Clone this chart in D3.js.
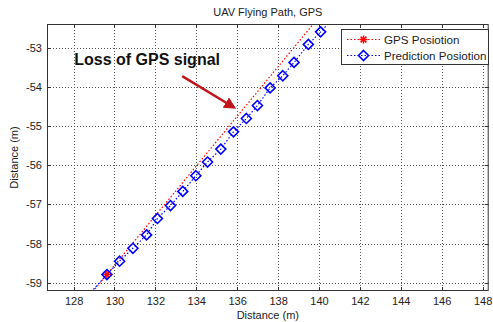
<!DOCTYPE html>
<html>
<head>
<meta charset="utf-8">
<script src="https://cdn.jsdelivr.net/npm/d3@7"></script>
<style>
  html, body { margin: 0; padding: 0; background: #fff; }
  svg { display: block; }
  text { font-family: "Liberation Sans", Arial, sans-serif; }
</style>
</head>
<body>
<svg id="chart" width="493" height="322"></svg>
<script>
// ---- data ----
const gpsX = [128.5, 129.63, 141.0];
const gpsY = [-59.50, -58.79, -51.59];
const predX = [128.4, 129.63, 130.25, 130.90, 131.57, 132.10, 132.74, 133.34, 133.98, 134.55, 135.20, 135.82, 136.45, 136.99, 137.61, 138.23, 138.78, 139.48, 140.08, 140.70];
const predY = [-59.50, -58.79, -58.45, -58.12, -57.78, -57.36, -57.03, -56.67, -56.27, -55.92, -55.59, -55.15, -54.81, -54.48, -54.03, -53.72, -53.38, -52.92, -52.60, -52.25];
const xTicks = [128, 130, 132, 134, 136, 138, 140, 142, 144, 146, 148];
const yTicks = [-59, -58, -57, -56, -55, -54, -53];
const seriesNames = ["GPS Posiotion", "Prediction Posiotion"];
const titleText = "UAV Flying Path, GPS";
const xLabel = "Distance (m)";
const yLabel = "Distance (m)";
const noteText = "Loss of GPS signal";

// ---- layout ----
const W = 493, H = 322;
const m = { left: 47, top: 24, right: 4.3, bottom: 31 };
const pw = W - m.left - m.right, ph = H - m.top - m.bottom;

const svg = d3.select("#chart");
const x = d3.scaleLinear().domain([126.7, 148.3]).range([m.left, m.left + pw]);
const y = d3.scaleLinear().domain([-59.21, -52.4]).range([m.top + ph, m.top]);

svg.append("rect").attr("width", W).attr("height", H).attr("fill", "#fff");
svg.append("rect").attr("x", m.left).attr("y", m.top).attr("width", pw).attr("height", ph).attr("fill", "#fff");

// grid
const grid = svg.append("g").attr("stroke", "#555").attr("stroke-width", 1).attr("stroke-dasharray", "1,2");
grid.selectAll("line.vx").data(xTicks).join("line")
  .attr("x1", d => Math.round(x(d)) + 0.5).attr("x2", d => Math.round(x(d)) + 0.5)
  .attr("y1", m.top).attr("y2", m.top + ph);
grid.selectAll("line.hy").data(yTicks).join("line")
  .attr("y1", d => Math.round(y(d)) + 0.5).attr("y2", d => Math.round(y(d)) + 0.5)
  .attr("x1", m.left).attr("x2", m.left + pw);

// clip
svg.append("clipPath").attr("id", "clip").append("rect")
  .attr("x", m.left).attr("y", m.top).attr("width", pw).attr("height", ph);

const plot = svg.append("g").attr("clip-path", "url(#clip)");
const line = d3.line().x(d => x(d[0])).y(d => y(d[1]));
const gpsData = gpsX.map((v, i) => [v, gpsY[i]]);
const predData = predX.map((v, i) => [v, predY[i]]);

plot.append("path").datum(gpsData).attr("d", line)
  .attr("fill", "none").attr("stroke", "#ff0000").attr("stroke-width", 1.2).attr("stroke-dasharray", "1.5,2");
plot.append("path").datum(predData).attr("d", line)
  .attr("fill", "none").attr("stroke", "#0000ff").attr("stroke-width", 1.2).attr("stroke-dasharray", "1.5,2");

function star(g, cx, cy, r) {
  const s = g.append("g").attr("stroke", "#ff0000").attr("stroke-width", 1.5);
  s.append("line").attr("x1", cx - r).attr("x2", cx + r).attr("y1", cy).attr("y2", cy);
  s.append("line").attr("x1", cx).attr("x2", cx).attr("y1", cy - r).attr("y2", cy + r);
  const k = r * 0.72;
  s.append("line").attr("x1", cx - k).attr("x2", cx + k).attr("y1", cy - k).attr("y2", cy + k);
  s.append("line").attr("x1", cx - k).attr("x2", cx + k).attr("y1", cy + k).attr("y2", cy - k);
}
function diamondPath(cx, cy, r) {
  return `M${cx},${cy - r}L${cx + r},${cy}L${cx},${cy + r}L${cx - r},${cy}Z`;
}
gpsData.forEach(d => star(plot, x(d[0]), y(d[1]), 4));
plot.selectAll("path.dia").data(predData).join("path").attr("class", "dia")
  .attr("d", d => diamondPath(x(d[0]), y(d[1]), 5))
  .attr("fill", "none").attr("stroke", "#0000ff").attr("stroke-width", 1.6);

// axes box + ticks
const axc = "#333";
svg.append("rect").attr("x", m.left + 0.5).attr("y", m.top + 0.5).attr("width", pw - 1).attr("height", ph - 1)
  .attr("fill", "none").attr("stroke", axc).attr("stroke-width", 1);
const tk = svg.append("g").attr("stroke", axc);
xTicks.forEach(t => {
  const px = Math.round(x(t)) + 0.5;
  tk.append("line").attr("x1", px).attr("x2", px).attr("y1", m.top + ph).attr("y2", m.top + ph - 4);
  tk.append("line").attr("x1", px).attr("x2", px).attr("y1", m.top).attr("y2", m.top + 4);
});
yTicks.forEach(t => {
  const py = Math.round(y(t)) + 0.5;
  tk.append("line").attr("y1", py).attr("y2", py).attr("x1", m.left).attr("x2", m.left + 4);
  tk.append("line").attr("y1", py).attr("y2", py).attr("x1", m.left + pw).attr("x2", m.left + pw - 4);
});

// tick labels via d3 axes
const xa = svg.append("g").attr("transform", `translate(0,${m.top + ph})`)
  .call(d3.axisBottom(x).tickValues(xTicks).tickSize(0).tickPadding(6).tickFormat(d3.format("d")));
xa.select(".domain").remove();
xa.selectAll("text").attr("font-size", 11).attr("fill", "#222").attr("font-family", "Liberation Sans, Arial, sans-serif");
const ya = svg.append("g").attr("transform", `translate(${m.left},0)`)
  .call(d3.axisLeft(y).tickValues(yTicks).tickSize(0).tickPadding(5).tickFormat(d => d3.format("d")(d).replace("−", "-")));
ya.select(".domain").remove();
ya.selectAll("text").attr("font-size", 11).attr("fill", "#222").attr("font-family", "Liberation Sans, Arial, sans-serif");

// title & labels
svg.append("text").attr("x", m.left + pw / 2).attr("y", 16).attr("text-anchor", "middle")
  .attr("font-size", 11).attr("fill", "#222").text(titleText);
svg.append("text").attr("x", m.left + pw / 2).attr("y", 319).attr("text-anchor", "middle")
  .attr("font-size", 11).attr("fill", "#222").text(xLabel);
svg.append("text").attr("transform", `translate(18,${m.top + ph / 2}) rotate(-90)`).attr("text-anchor", "middle")
  .attr("font-size", 11).attr("fill", "#222").text(yLabel);

// legend
const lg = svg.append("g");
lg.append("rect").attr("x", 341.5).attr("y", 29.5).attr("width", 147).attr("height", 35)
  .attr("fill", "#fff").attr("stroke", axc).attr("stroke-width", 1);
const lgColors = ["#ff0000", "#0000ff"];
seriesNames.forEach((n, i) => {
  const yy = 39.5 + i * 16;
  lg.append("line").attr("x1", 347).attr("x2", 380).attr("y1", yy).attr("y2", yy)
    .attr("stroke", lgColors[i]).attr("stroke-width", 1.2).attr("stroke-dasharray", "1.5,2");
  if (i === 0) star(lg, 363.5, yy, 4);
  else lg.append("path").attr("d", diamondPath(363.5, yy, 5)).attr("fill", "none").attr("stroke", "#0000ff").attr("stroke-width", 1.6);
  lg.append("text").attr("x", 384).attr("y", yy + 4).attr("font-size", 11.6).attr("fill", "#222").text(n);
});

// annotation
svg.append("text").attr("x", x(128.03)).attr("y", y(-53.45)).attr("font-size", 16).attr("font-weight", "bold")
  .attr("font-family", "Noto Sans, sans-serif").attr("fill", "#111").text(noteText);
svg.append("defs").append("marker").attr("id", "ah").attr("viewBox", "0 0 10 10").attr("refX", 8).attr("refY", 5)
  .attr("markerWidth", 5).attr("markerHeight", 5).attr("orient", "auto")
  .append("path").attr("d", "M0,0L10,5L0,10Z").attr("fill", "#c0141b");
svg.append("line").attr("x1", x(133.31)).attr("y1", y(-53.73)).attr("x2", x(135.85)).attr("y2", y(-54.53))
  .attr("stroke", "#c0141b").attr("stroke-width", 2.4).attr("marker-end", "url(#ah)");
</script>
</body>
</html>
